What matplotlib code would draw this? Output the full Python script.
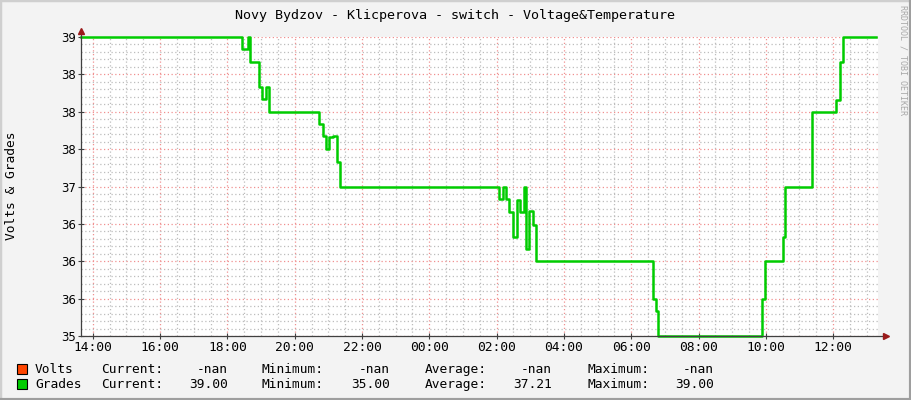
import numpy as np
import matplotlib
matplotlib.use("Agg")
import matplotlib.pyplot as plt
from matplotlib.lines import Line2D
from matplotlib.patches import Rectangle
from matplotlib.ticker import MultipleLocator

# datos (hora de cambio -> valor)
grades_times = ["13:39", "18:26", "18:36", "18:40", "18:47", "18:56", "19:02", "19:09",
                "19:15", "20:44", "20:50", "20:56", "21:01", "21:09", "21:15", "21:20",
                "02:05", "02:12", "02:16", "02:22", "02:30", "02:36", "02:41", "02:48",
                "02:53", "02:58", "03:05", "03:10", "06:38", "06:44", "06:48", "09:53",
                "09:59", "10:30", "10:35", "11:23", "12:05", "12:12", "12:17", "13:16"]
grades_values = [39.0, 38.84, 39.0, 38.67, 38.66, 38.33, 38.17, 38.33,
                 38.0, 37.83, 37.67, 37.5, 37.66, 37.68, 37.33, 37.0,
                 36.83, 37.0, 36.83, 36.66, 36.33, 36.82, 36.66, 37.0,
                 36.17, 36.67, 36.49, 36.0, 35.5, 35.33, 35.0, 35.49,
                 36.0, 36.32, 37.0, 38.0, 38.16, 38.67, 39.0, 39.0]

ytick_values = [35.0, 35.5, 36.0, 36.5, 37.0, 37.5, 38.0, 38.5, 39.0]
ytick_labels = ["35", "36", "36", "36", "37", "38", "38", "38", "39"]
xtick_labels = ["14:00", "16:00", "18:00", "20:00", "22:00", "00:00",
                "02:00", "04:00", "06:00", "08:00", "10:00", "12:00"]

legend_names = ["Volts", "Grades"]
legend_colors = ["#FF4500", "#00CC00"]
stat_current = ["-nan", "39.00"]
stat_minimum = ["-nan", "35.00"]
stat_average = ["-nan", "37.21"]
stat_maximum = ["-nan", "39.00"]

title = "Novy Bydzov - Klicperova - switch - Voltage&Temperature"
x_start, x_end = "13:39", "13:20"


def a_horas(tiempos):
    horas = []
    extra = 0
    prev = -1
    for t in tiempos:
        h, m = t.split(":")
        v = int(h) + int(m) / 60.0
        if v < prev:
            extra = 24
        prev = v
        horas.append(v + extra)
    return np.array(horas)


x = a_horas(grades_times)
xlim = a_horas([x_start, x_end])
xlim[1] = xlim[1] if xlim[1] > xlim[0] else xlim[1] + 24

mono = "DejaVu Sans Mono"
W, H = 911, 400

fig = plt.figure(figsize=(W / 100, H / 100), dpi=100)
fig.patch.set_facecolor("#F3F3F3")
ax = fig.add_axes([81 / W, 1 - 336 / H, 797 / W, 299 / H])
ax.set_facecolor("white")

ax.plot(x, grades_values, drawstyle="steps-post", color="#00CC00", lw=1.8,
        clip_on=False, zorder=2)

ax.set_xlim(xlim[0], xlim[1])
ax.set_ylim(35, 39)

# rejilla
xt = np.arange(14, 14 + 2 * len(xtick_labels), 2)
ax.set_xticks(xt)
ax.set_xticklabels(xtick_labels, family=mono, fontsize=9.3)
ax.xaxis.set_minor_locator(MultipleLocator(0.5))
ax.set_yticks(ytick_values)
ax.set_yticklabels(ytick_labels, fontsize=8.5)
ax.yaxis.set_minor_locator(MultipleLocator(0.1))
ax.grid(which="major", color="#F09090", linestyle=(0, (1, 2)), lw=0.9, zorder=0)
ax.grid(which="minor", color="#BDBDBD", linestyle=(0, (1, 2)), lw=0.9, zorder=0)
ax.set_axisbelow(True)
ax.tick_params(which="major", direction="inout", length=5, width=0.8,
               color="#404040", pad=1)
ax.tick_params(which="minor", direction="in", length=0)

for s in ax.spines.values():
    s.set_visible(False)

# ejes con flechas
ax_col = "#404040"
ax.plot([0, 1.0095], [0, 0], color=ax_col, lw=0.9, transform=ax.transAxes,
        clip_on=False, zorder=3)
ax.plot([0, 0], [0, 1.02], color=ax_col, lw=0.9, transform=ax.transAxes,
        clip_on=False, zorder=3)
ax.plot([1.0095], [0], marker=">", ms=4, color="#9A1A1A", transform=ax.transAxes,
        clip_on=False, zorder=4)
ax.plot([0], [1.02], marker="^", ms=4, color="#9A1A1A", transform=ax.transAxes,
        clip_on=False, zorder=4)

# textos
fig.text(455 / W, 1 - 15 / H, title, family=mono, fontsize=9.6,
         ha="center", va="center")
fig.text(12 / W, 1 - 186 / H, "Volts & Grades", family=mono, fontsize=9.3,
         rotation=90, ha="center", va="center")
fig.text(903 / W, 1 - 5 / H, "RRDTOOL / TOBI OETIKER", family=mono, fontsize=6,
         color="#A8A8A8", rotation=-90, ha="center", va="top")

# leyenda
filas = [369, 384]
etiquetas = ["Current:", "Minimum:", "Average:", "Maximum:"]
x_etiq = [101, 262, 425, 587]
x_val = [228, 390, 552, 714]
for i in range(len(legend_names)):
    yy = 1 - (filas[i] + 4) / H
    fig.add_artist(Rectangle((17 / W, 1 - (filas[i] + 5) / H), 10 / W, 10 / H,
                             facecolor=legend_colors[i], edgecolor="black",
                             lw=0.8, transform=fig.transFigure))
    fig.text(35 / W, yy, legend_names[i], family=mono, fontsize=9.3, va="baseline")
    valores = [stat_current[i], stat_minimum[i], stat_average[i], stat_maximum[i]]
    for e, v, xe, xv in zip(etiquetas, valores, x_etiq, x_val):
        fig.text(xe / W, yy, e, family=mono, fontsize=9.3, va="baseline")
        fig.text(xv / W, yy, v, family=mono, fontsize=9.3, va="baseline", ha="right")

# marco
fig.add_artist(Line2D([0, 0, 1], [0, 1, 1], color="#CFCFCF", lw=2.5,
                      transform=fig.transFigure))
fig.add_artist(Line2D([0, 1, 1], [0, 0, 1], color="#9E9E9E", lw=3,
                      transform=fig.transFigure))

fig.savefig("out.png", dpi=100, facecolor=fig.get_facecolor())
